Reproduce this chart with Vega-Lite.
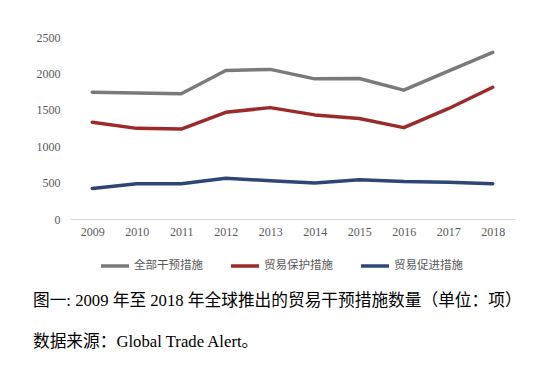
{
  "$schema": "https://vega.github.io/schema/vega-lite/v6.json",
  "width": 445,
  "height": 182,
  "autosize": "none",
  "padding": {"left": 70, "top": 37, "right": 23, "bottom": 157},
  "background": "white",
  "config": {"view": {"stroke": null}},
  "title": {
    "text": ["图一: 2009 年至 2018 年全球推出的贸易干预措施数量（单位：项）", "数据来源：Global Trade Alert。"],
    "orient": "bottom",
    "anchor": "start",
    "frame": "group",
    "dx": -37,
    "offset": 20,
    "font": "Liberation Serif, Noto Sans CJK SC",
    "fontSize": 16.7,
    "fontWeight": "normal",
    "lineHeight": 41,
    "color": "#000000"
  },
  "data": {
    "values": [
      {"year": "2009", "s": "全部干预措施", "v": 1740},
      {"year": "2010", "s": "全部干预措施", "v": 1730},
      {"year": "2011", "s": "全部干预措施", "v": 1720},
      {"year": "2012", "s": "全部干预措施", "v": 2040},
      {"year": "2013", "s": "全部干预措施", "v": 2055},
      {"year": "2014", "s": "全部干预措施", "v": 1925},
      {"year": "2015", "s": "全部干预措施", "v": 1930},
      {"year": "2016", "s": "全部干预措施", "v": 1770},
      {"year": "2017", "s": "全部干预措施", "v": 2030},
      {"year": "2018", "s": "全部干预措施", "v": 2290},
      {"year": "2009", "s": "贸易保护措施", "v": 1330},
      {"year": "2010", "s": "贸易保护措施", "v": 1245},
      {"year": "2011", "s": "贸易保护措施", "v": 1235},
      {"year": "2012", "s": "贸易保护措施", "v": 1465},
      {"year": "2013", "s": "贸易保护措施", "v": 1530},
      {"year": "2014", "s": "贸易保护措施", "v": 1430},
      {"year": "2015", "s": "贸易保护措施", "v": 1380},
      {"year": "2016", "s": "贸易保护措施", "v": 1255},
      {"year": "2017", "s": "贸易保护措施", "v": 1515},
      {"year": "2018", "s": "贸易保护措施", "v": 1810},
      {"year": "2009", "s": "贸易促进措施", "v": 420},
      {"year": "2010", "s": "贸易促进措施", "v": 485},
      {"year": "2011", "s": "贸易促进措施", "v": 485},
      {"year": "2012", "s": "贸易促进措施", "v": 560},
      {"year": "2013", "s": "贸易促进措施", "v": 525},
      {"year": "2014", "s": "贸易促进措施", "v": 495},
      {"year": "2015", "s": "贸易促进措施", "v": 540},
      {"year": "2016", "s": "贸易促进措施", "v": 515},
      {"year": "2017", "s": "贸易促进措施", "v": 505},
      {"year": "2018", "s": "贸易促进措施", "v": 485}
    ]
  },
  "mark": {"type": "line", "strokeWidth": 3.5, "strokeJoin": "round", "strokeCap": "round"},
  "encoding": {
    "x": {
      "field": "year",
      "type": "ordinal",
      "scale": {"type": "point", "padding": 0.5},
      "axis": {
        "title": null,
        "labelAngle": 0,
        "labelFont": "Liberation Serif",
        "labelFontSize": 12,
        "labelColor": "#595959",
        "ticks": false,
        "domainColor": "#d9d9d9",
        "domainWidth": 1,
        "labelPadding": 7,
        "grid": false
      }
    },
    "y": {
      "field": "v",
      "type": "quantitative",
      "scale": {"domain": [0, 2500]},
      "axis": {
        "title": null,
        "values": [0, 500, 1000, 1500, 2000, 2500],
        "format": "d",
        "labelFont": "Liberation Serif",
        "labelFontSize": 12,
        "labelColor": "#595959",
        "ticks": false,
        "domain": false,
        "grid": false,
        "labelPadding": 10
      }
    },
    "color": {
      "field": "s",
      "type": "nominal",
      "sort": ["全部干预措施", "贸易保护措施", "贸易促进措施"],
      "scale": {
        "domain": ["全部干预措施", "贸易保护措施", "贸易促进措施"],
        "range": ["#7a7a7a", "#9b2a2a", "#2e4677"]
      },
      "legend": {
        "title": null,
        "orient": "none",
        "legendX": 29,
        "legendY": 213,
        "direction": "horizontal",
        "symbolType": "stroke",
        "symbolSize": 784,
        "symbolStrokeWidth": 3.5,
        "labelFont": "Noto Sans CJK SC",
        "labelFontSize": 11.5,
        "labelColor": "#595959",
        "labelOffset": 3,
        "columnPadding": 21
      }
    }
  }
}
